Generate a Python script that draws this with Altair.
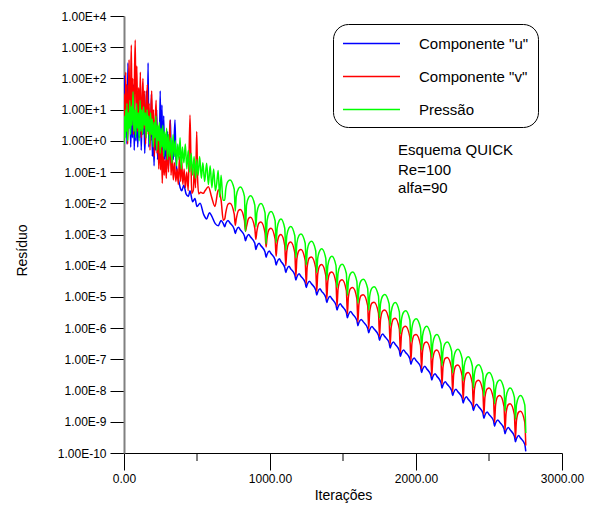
import altair as alt
import pandas as pd

series_names = ['Componente "u"', 'Componente "v"', 'Pressão']
series_colors = ["#0000ff", "#ff0000", "#00ff00"]

# ---- early, noisy part: (iteration, log10 of residual) ----
u_pre = [(0, 0.2), (5, 2.1), (10, 0.4), (15, 1.6), (20, -0.1), (27, 2.5), (33, 0.5), (40, 1.3),
         (46, -0.2), (52, 1.0), (58, 0.1), (64, 1.8), (70, -0.3), (76, 0.9), (82, 0.0), (88, 1.2),
         (94, -0.2), (100, 0.7), (106, 0.1), (112, 1.4), (118, -0.3), (124, 0.8), (130, 0.2),
         (136, 1.1), (142, -0.4), (148, 0.6), (154, 1.6), (160, 0.3), (165, 2.5), (170, -0.2),
         (176, 0.9), (182, 0.0), (188, 1.5), (194, -0.5), (200, 0.4), (206, -0.8), (212, 0.6),
         (218, -0.3), (224, 1.0), (230, -0.6), (236, 0.3), (242, -0.4), (248, 1.6), (254, -0.5),
         (260, 1.15), (266, -0.7), (272, 0.8), (278, -0.6), (285, 0.2), (292, -0.9), (298, 0.3),
         (305, -0.8), (312, 0.0), (318, 0.67), (324, -0.7), (330, -0.2), (338, -0.6), (349, 0.67),
         (356, -0.6), (364, -1.0), (372, -1.2), (385, -1.5), (395, -1.6), (410, -1.42),
         (425, -1.7), (441, -1.78), (452, -1.6), (470, -1.95), (486, -1.85), (500, -2.1),
         (521, -2.0), (545, -2.35), (566, -2.5), (585, -2.3), (600, -2.4), (625, -2.65),
         (646, -2.72), (665, -2.55), (680, -2.65)]

v_pre = [(0, 0.0), (4, 1.5), (8, 0.3), (12, 2.2), (16, 0.6), (20, 1.8), (25, -0.1), (30, 1.2),
         (35, 2.6), (40, 0.4), (45, 1.4), (50, 3.07), (55, 0.8), (60, 2.0), (65, 0.2), (70, 1.5),
         (77, 3.23), (82, 0.9), (88, 2.4), (94, 0.3), (100, 1.7), (106, 0.6), (112, 2.2),
         (118, 0.1), (124, 1.3), (130, 2.0), (136, 0.4), (142, 1.6), (148, -0.1), (154, 1.0),
         (160, 1.8), (166, 0.2), (172, 1.2), (178, -0.3), (184, 0.9), (190, 1.6), (196, 0.0),
         (202, 1.0), (208, -0.5), (214, 0.6), (220, 1.3), (226, -0.4), (232, 0.5), (238, -0.9),
         (244, 0.3), (250, -0.93), (256, 0.1), (262, -1.36), (268, -0.3), (275, -1.1),
         (282, -0.6), (290, -1.2), (298, 0.1), (305, -1.0), (315, 0.67), (322, -1.1), (330, -0.5),
         (338, -1.25), (346, -0.7), (355, -1.3), (364, -0.9), (372, -1.4), (380, -0.5),
         (388, -1.3), (395, -0.61), (403, -1.4), (412, -0.9), (420, -1.5), (430, -1.0),
         (440, -1.6), (452, 0.83), (458, -0.5), (464, -1.68), (475, -1.58), (482, -0.8),
         (490, -1.5), (498, 0.3), (504, -1.2), (512, -1.7), (525, -1.65), (543, -1.68),
         (555, -1.6), (578, -1.47), (600, -1.8), (623, -2.1), (646, -1.57), (665, -1.9),
         (680, -2.54)]

p_pre = [(0, -0.1), (4, 0.8), (8, 0.1), (12, 1.0), (16, 0.3), (20, 1.2), (25, 0.0), (30, 0.9),
         (35, 0.4), (40, 1.3), (45, 0.2), (50, 1.1), (55, 0.5), (62, 1.57), (68, 0.3), (74, 1.0),
         (80, 0.1), (86, 1.2), (92, 0.4), (98, 0.9), (104, 0.0), (110, 1.3), (116, 0.3),
         (122, 1.0), (128, 0.2), (134, 1.1), (140, 0.5), (146, 0.9), (152, 0.1), (158, 1.0),
         (164, 0.3), (170, 0.8), (176, -0.1), (182, 0.9), (188, 0.2), (194, 0.7), (200, -0.2),
         (206, 0.6), (212, 0.1), (218, 0.8), (224, -0.3), (230, 0.5), (236, 0.0), (242, 0.6),
         (248, -0.4), (254, 0.4), (260, -0.2), (266, 0.5), (272, -0.5), (278, 0.3), (285, -0.3),
         (292, 0.4), (298, -0.6), (305, 0.2), (312, -0.5), (320, 0.1), (328, -0.7), (336, 0.2),
         (344, -0.5), (352, 0.0), (360, -0.8), (368, -0.1), (376, -0.6), (384, 0.1), (392, -0.9),
         (400, -0.2), (410, -0.7), (420, -0.1), (430, -0.9), (440, -0.3), (450, -1.0),
         (460, -0.4), (470, -1.1), (480, -0.5), (490, -1.2), (498, -0.6), (508, -1.1),
         (518, -0.5), (530, -1.2), (540, -0.7), (552, -1.3), (566, -0.72), (578, -1.4),
         (590, -0.8), (602, -1.5), (614, -0.9), (626, -1.6), (635, -1.36), (645, -0.95),
         (655, -1.8), (665, -1.1), (678, -1.9)]

# ---- periodic decay part: shared iteration grid, log10 residual per series ----
arch_iter = [
    690, 697, 712, 726, 755, 762, 769, 784, 797, 825, 832, 839, 854, 867, 896,
    903, 910, 925, 938, 966, 973, 980, 995, 1007, 1035, 1042, 1049, 1064, 1075, 1101,
    1108, 1115, 1130, 1142, 1170, 1177, 1184, 1199, 1212, 1241, 1248, 1255, 1270, 1284, 1313,
    1320, 1327, 1342, 1354, 1382, 1389, 1396, 1411, 1424, 1452, 1459, 1466, 1481, 1494, 1523,
    1530, 1537, 1552, 1566, 1595, 1602, 1609, 1624, 1639, 1669, 1676, 1683, 1698, 1713, 1743,
    1750, 1757, 1772, 1786, 1816, 1823, 1830, 1845, 1858, 1886, 1893, 1900, 1915, 1929, 1958,
    1965, 1972, 1987, 2001, 2031, 2038, 2045, 2060, 2073, 2101, 2108, 2115, 2130, 2143, 2171,
    2178, 2185, 2200, 2214, 2244, 2251, 2258, 2273, 2287, 2316, 2323, 2330, 2345, 2358, 2386,
    2393, 2400, 2415, 2429, 2458, 2465, 2472, 2487, 2501, 2531, 2538, 2545, 2560, 2574, 2603,
    2610, 2617, 2632, 2645, 2674, 2681, 2688, 2703, 2716, 2745, 2752]

u_arch_log = [
    -2.75, -2.65, -2.55, -2.63, -2.83, -2.97, -2.87, -2.77, -2.85, -3.05,
    -3.20, -3.10, -3.00, -3.08, -3.28, -3.48, -3.38, -3.28, -3.36, -3.56,
    -3.73, -3.63, -3.53, -3.61, -3.81, -3.98, -3.88, -3.78, -3.86, -4.06,
    -4.22, -4.12, -4.02, -4.10, -4.30, -4.46, -4.36, -4.26, -4.34, -4.54,
    -4.70, -4.60, -4.50, -4.58, -4.78, -4.94, -4.84, -4.74, -4.82, -5.02,
    -5.18, -5.08, -4.98, -5.06, -5.26, -5.42, -5.32, -5.22, -5.30, -5.50,
    -5.67, -5.57, -5.47, -5.55, -5.75, -5.92, -5.82, -5.72, -5.80, -6.00,
    -6.15, -6.05, -5.95, -6.03, -6.23, -6.39, -6.29, -6.19, -6.27, -6.47,
    -6.64, -6.54, -6.44, -6.52, -6.72, -6.90, -6.80, -6.70, -6.78, -6.98,
    -7.16, -7.06, -6.96, -7.04, -7.24, -7.42, -7.32, -7.22, -7.30, -7.50,
    -7.66, -7.56, -7.46, -7.54, -7.74, -7.92, -7.82, -7.72, -7.80, -8.00,
    -8.16, -8.06, -7.96, -8.04, -8.24, -8.40, -8.30, -8.20, -8.28, -8.48,
    -8.64, -8.54, -8.44, -8.52, -8.72, -8.89, -8.79, -8.69, -8.77, -8.97,
    -9.14, -9.04, -8.94, -9.02, -9.22, -9.38, -9.28, -9.18, -9.26, -9.46,
    -9.64, -9.54, -9.44, -9.52, -9.72, -9.95]

v_arch_log = [
    -2.50, -2.30, -2.03, -2.00, -2.35, -2.70, -2.50, -2.23, -2.20, -2.55,
    -2.90, -2.75, -2.48, -2.45, -2.80, -3.15, -2.90, -2.63, -2.60, -2.95,
    -3.40, -3.10, -2.83, -2.80, -3.15, -3.70, -3.30, -3.03, -3.00, -3.35,
    -4.00, -3.54, -3.27, -3.24, -3.59, -4.34, -3.78, -3.51, -3.48, -3.83,
    -4.58, -4.02, -3.75, -3.72, -4.07, -4.82, -4.26, -3.99, -3.96, -4.31,
    -5.06, -4.50, -4.23, -4.20, -4.55, -5.30, -4.75, -4.48, -4.45, -4.80,
    -5.55, -5.00, -4.73, -4.70, -5.05, -5.80, -5.23, -4.96, -4.93, -5.28,
    -6.03, -5.47, -5.20, -5.17, -5.52, -6.27, -5.72, -5.45, -5.42, -5.77,
    -6.52, -5.98, -5.71, -5.68, -6.03, -6.78, -6.24, -5.97, -5.94, -6.29,
    -7.04, -6.50, -6.23, -6.20, -6.55, -7.30, -6.74, -6.47, -6.44, -6.79,
    -7.54, -7.00, -6.73, -6.70, -7.05, -7.80, -7.24, -6.97, -6.94, -7.29,
    -8.04, -7.48, -7.21, -7.18, -7.53, -8.28, -7.72, -7.45, -7.42, -7.77,
    -8.52, -7.97, -7.70, -7.67, -8.02, -8.77, -8.22, -7.95, -7.92, -8.27,
    -9.02, -8.46, -8.19, -8.16, -8.51, -9.26, -8.72, -8.45, -8.42, -8.77,
    -9.52, -8.96, -8.69, -8.66, -9.01, -9.76]

p_arch_log = [
    -1.90, -1.55, -1.30, -1.25, -1.55, -2.25, -1.78, -1.53, -1.48, -1.78,
    -2.90, -2.06, -1.81, -1.76, -2.06, -2.76, -2.31, -2.06, -2.01, -2.31,
    -3.30, -2.56, -2.31, -2.26, -2.56, -3.26, -2.80, -2.55, -2.50, -2.80,
    -3.50, -3.04, -2.79, -2.74, -3.04, -3.74, -3.28, -3.03, -2.98, -3.28,
    -3.98, -3.52, -3.27, -3.22, -3.52, -4.22, -3.76, -3.51, -3.46, -3.76,
    -4.46, -4.00, -3.75, -3.70, -4.00, -4.70, -4.25, -4.00, -3.95, -4.25,
    -4.95, -4.50, -4.25, -4.20, -4.50, -5.20, -4.73, -4.48, -4.43, -4.73,
    -5.43, -4.97, -4.72, -4.67, -4.97, -5.67, -5.22, -4.97, -4.92, -5.22,
    -5.92, -5.48, -5.23, -5.18, -5.48, -6.18, -5.74, -5.49, -5.44, -5.74,
    -6.44, -6.00, -5.75, -5.70, -6.00, -6.70, -6.24, -5.99, -5.94, -6.24,
    -6.94, -6.50, -6.25, -6.20, -6.50, -7.20, -6.74, -6.49, -6.44, -6.74,
    -7.44, -6.98, -6.73, -6.68, -6.98, -7.68, -7.22, -6.97, -6.92, -7.22,
    -7.92, -7.47, -7.22, -7.17, -7.47, -8.17, -7.72, -7.47, -7.42, -7.72,
    -8.42, -7.96, -7.71, -7.66, -7.96, -8.66, -8.22, -7.97, -7.92, -8.22,
    -8.92, -8.46, -8.21, -8.16, -8.46, -9.36]

x_major_ticks = [0, 1000, 2000, 3000]
x_minor_ticks = [500, 1500, 2500]
y_decades = list(range(-10, 5))

note_lines = ["Esquema QUICK", "Re=100", "alfa=90"]
note_iter = [1877, 1877, 1877]
note_log = [-0.29, -0.93, -1.51]

# ---- tables ----
rows = []
for name, pre, arch in [(series_names[0], u_pre, u_arch_log),
                        (series_names[1], v_pre, v_arch_log),
                        (series_names[2], p_pre, p_arch_log)]:
    assert len(arch) == len(arch_iter)
    for it, lg in pre:
        rows.append({"serie": name, "iter": it, "res": 10.0 ** lg})
    for it, lg in zip(arch_iter, arch):
        rows.append({"serie": name, "iter": it, "res": 10.0 ** lg})
df = pd.DataFrame(rows)

notes = pd.DataFrame({"iter": note_iter, "res": [10.0 ** v for v in note_log], "t": note_lines})
minor = pd.DataFrame({"iter": x_minor_ticks})

FONT = "Liberation Sans"

x_scale = alt.Scale(domain=[0, 3000], nice=False, zero=False)
y_scale = alt.Scale(type="log", domain=[1e-10, 1e4], nice=False)
color_scale = alt.Scale(domain=series_names, range=series_colors)

x_enc = alt.X("iter:Q", scale=x_scale, axis=alt.Axis(
    values=x_major_ticks, format=".2f", title="Iterações", grid=False,
    tickSize=17, tickColor="black", domainColor="black", domainWidth=1,
    labelFont=FONT, labelFontSize=12, labelColor="black", labelPadding=3,
    labelFlush=False, titleFont=FONT, titleFontSize=14, titleFontWeight="normal",
    titleColor="black", titlePadding=4))

y_enc = alt.Y("res:Q", scale=y_scale, axis=alt.Axis(
    values=[10.0 ** e for e in y_decades],
    labelExpr="'1.00E' + (round(log(datum.value)/LN10) >= 0 ? '+' : '') + round(log(datum.value)/LN10)",
    title="Resíduo", grid=False, tickSize=14, tickColor="black",
    domainColor="#808080", domainWidth=2,
    labelFont=FONT, labelFontSize=12, labelColor="black", labelPadding=4,
    labelFlush=False, titleFont=FONT, titleFontSize=14, titleFontWeight="normal",
    titleColor="black", titleX=-102, titleY=234, titleAngle=-90, titleAlign="center",
    titleBaseline="middle"))

color_enc = alt.Color("serie:N", scale=color_scale, legend=alt.Legend(
    title=None, orient="none", legendX=209, legendY=8,
    strokeColor="black", cornerRadius=15, padding=9,
    symbolType="M-1,0H5", symbolSize=361, symbolStrokeWidth=1.5,
    labelFont=FONT, labelFontSize=15, labelColor="black", labelOffset=56,
    rowPadding=14, labelLimit=300))

layers = []
for name in series_names:
    layers.append(
        alt.Chart(df).transform_filter(alt.datum.serie == name)
        .mark_line(strokeWidth=1.5, interpolate="monotone", clip=True)
        .encode(x=x_enc, y=y_enc, color=color_enc)
    )

minor_ticks = alt.Chart(minor).mark_rule(color="black", strokeWidth=1, clip=False).encode(
    x=x_enc, y=alt.value(437), y2=alt.value(445))

note_text = alt.Chart(notes).mark_text(
    align="left", baseline="middle", font=FONT, fontSize=15, color="black").encode(
    x=x_enc, y=y_enc, text="t:N")

chart = alt.layer(*layers, minor_ticks, note_text).properties(
    width=438, height=437,
    padding={"left": 124, "top": 16, "right": 29, "bottom": 55},
    autosize=alt.AutoSizeParams(type="none"),
    background="white",
).configure_view(stroke=None)

chart.save("out.html", embed_options={"renderer": "svg", "actions": False})
